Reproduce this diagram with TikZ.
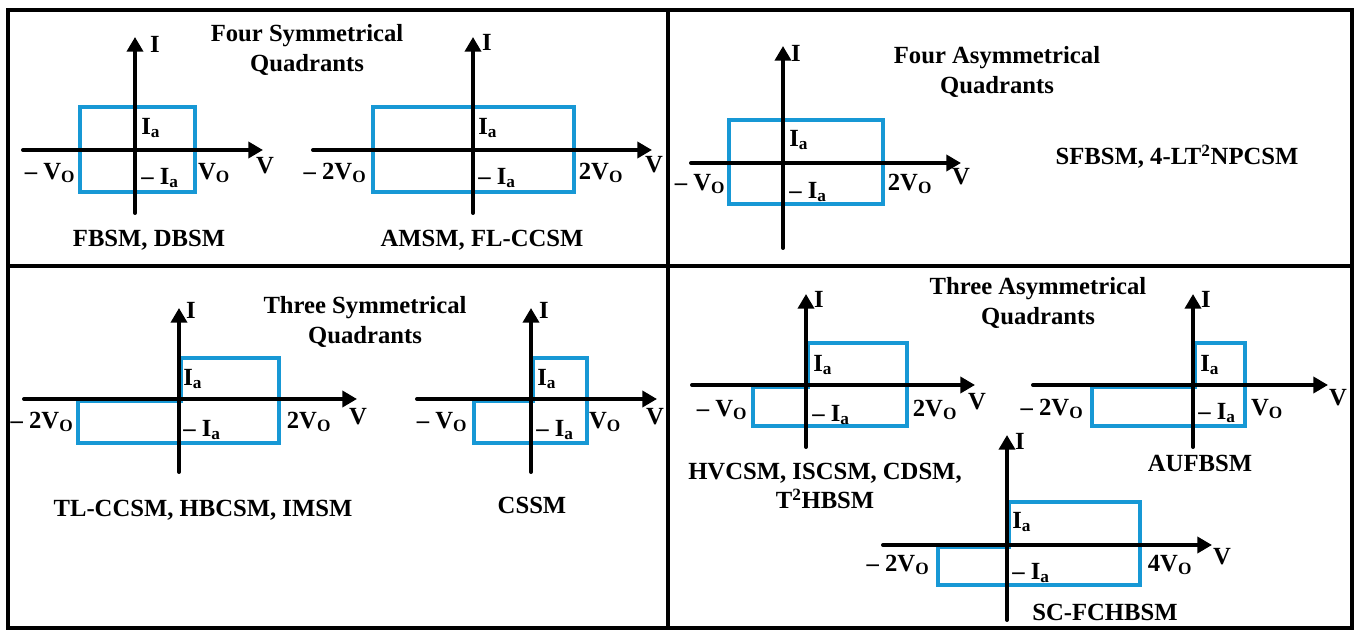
\documentclass[tikz,border=0pt]{standalone}
\usepackage{fontspec}
\setmainfont{Liberation Serif}
\usetikzlibrary{arrows.meta}
\definecolor{qblue}{RGB}{23,152,213}
\newcommand{\myIa}{I\textsubscript{a}}
\newcommand{\myVo}{V\textsubscript{O}}
\newcommand{\mymIa}{\textendash\ I\textsubscript{a}}
\begin{document}
\begin{tikzpicture}[x=0.75pt,y=-0.75pt,
  every node/.style={font=\bfseries\fontsize{18.5}{22}\selectfont, inner sep=0pt},
  axis/.style={line width=3pt, line cap=round, -{Triangle[length=11pt,width=12pt]}},
  wave/.style={draw=qblue, line width=3pt, line join=miter},
  frameline/.style={line width=2.3pt},
  lblw/.style={anchor=west},
  ttl/.style={align=center}]
\useasboundingbox (0,0) rectangle (1357,630);
% frame
\coordinate (f-tl) at (8,10);
\coordinate (f-br) at (1352,628);
\coordinate (f-mt) at (668,10);
\coordinate (f-mb) at (668,628);
\coordinate (f-ml) at (8,266);
\coordinate (f-mr) at (1352,266);
\draw[frameline] (f-tl) rectangle (f-br);
\draw[frameline] (f-mt) -- (f-mb);
\draw[frameline] (f-ml) -- (f-mr);

% ===== Graph A =====
\coordinate (A-r1) at (80,107); \coordinate (A-r2) at (195,192);
\draw[wave] (A-r1) rectangle (A-r2);
\coordinate (A-vl) at (23,150); \coordinate (A-vr) at (263,150);
\coordinate (A-ib) at (135,213); \coordinate (A-it) at (135,37);
\draw[axis] (A-vl) -- (A-vr);
\draw[axis] (A-ib) -- (A-it);
\node (A-I) at (155,44) {I};
\node[lblw] (A-ia) at (141,128) {\myIa};
\node[lblw] (A-mia) at (141,178) {\mymIa};
\node (A-vneg) at (50,173) {\textendash\ \myVo};
\node (A-vpos) at (214,173) {\myVo};
\node (A-V) at (265,166) {V};
\node (A-cap) at (149,240) {FBSM, DBSM};

% ===== Graph B =====
\coordinate (B-r1) at (373,107); \coordinate (B-r2) at (574,192);
\draw[wave] (B-r1) rectangle (B-r2);
\coordinate (B-vl) at (313,150); \coordinate (B-vr) at (652,150);
\coordinate (B-ib) at (473,213); \coordinate (B-it) at (473,37);
\draw[axis] (B-vl) -- (B-vr);
\draw[axis] (B-ib) -- (B-it);
\node (B-I) at (487,42) {I};
\node[lblw] (B-ia) at (478,128) {\myIa};
\node[lblw] (B-mia) at (478,178) {\mymIa};
\node (B-vneg) at (335,173) {\textendash\ 2\myVo};
\node (B-vpos) at (601,173) {2\myVo};
\node (B-V) at (654,165) {V};
\node (B-cap) at (482,240) {AMSM, FL-CCSM};
\node[ttl] (T1) at (307,50) {Four Symmetrical\\Quadrants};

% ===== Graph C =====
\coordinate (C-r1) at (729,120); \coordinate (C-r2) at (883,204);
\draw[wave] (C-r1) rectangle (C-r2);
\coordinate (C-vl) at (691,163); \coordinate (C-vr) at (961,163);
\coordinate (C-ib) at (783,248); \coordinate (C-it) at (783,46);
\draw[axis] (C-vl) -- (C-vr);
\draw[axis] (C-ib) -- (C-it);
\node (C-I) at (796,53) {I};
\node[lblw] (C-ia) at (789,140) {\myIa};
\node[lblw] (C-mia) at (789,192) {\mymIa};
\node (C-vneg) at (700,184) {\textendash\ \myVo};
\node (C-vpos) at (910,184) {2\myVo};
\node (C-V) at (961,177) {V};
\node[ttl] (T2) at (997,72) {Four Asymmetrical\\Quadrants};
\node (C-cap) at (1177,157) {SFBSM, 4-LT\textsuperscript{2}NPCSM};

% ===== Graph D =====
\coordinate (D-s0) at (181,401); \coordinate (D-s1) at (181,358);
\coordinate (D-s2) at (279,358); \coordinate (D-s3) at (279,443);
\coordinate (D-s4) at (78,443);  \coordinate (D-s5) at (78,401);
\draw[wave] (D-s0) -- (D-s1) -- (D-s2) -- (D-s3) -- (D-s4) -- (D-s5) -- cycle;
\coordinate (D-vl) at (24,399); \coordinate (D-vr) at (357,399);
\coordinate (D-ib) at (179,472); \coordinate (D-it) at (179,308);
\draw[axis] (D-vl) -- (D-vr);
\draw[axis] (D-ib) -- (D-it);
\node (D-I) at (191,310) {I};
\node[lblw] (D-ia) at (183,379) {\myIa};
\node[lblw] (D-mia) at (183,430) {\mymIa};
\node (D-vneg) at (42,422) {\textendash\ 2\myVo};
\node (D-vpos) at (309,422) {2\myVo};
\node (D-V) at (358,417) {V};
\node (D-cap) at (203,510) {TL-CCSM, HBCSM, IMSM};
\node[ttl] (T3) at (365,322) {Three Symmetrical\\Quadrants};

% ===== Graph E =====
\coordinate (E-s0) at (533,401); \coordinate (E-s1) at (533,358);
\coordinate (E-s2) at (587,358); \coordinate (E-s3) at (587,443);
\coordinate (E-s4) at (474,443); \coordinate (E-s5) at (474,401);
\draw[wave] (E-s0) -- (E-s1) -- (E-s2) -- (E-s3) -- (E-s4) -- (E-s5) -- cycle;
\coordinate (E-vl) at (417,399); \coordinate (E-vr) at (657,399);
\coordinate (E-ib) at (531,472); \coordinate (E-it) at (531,308);
\draw[axis] (E-vl) -- (E-vr);
\draw[axis] (E-ib) -- (E-it);
\node (E-I) at (544,310) {I};
\node[lblw] (E-ia) at (537,379) {\myIa};
\node[lblw] (E-mia) at (536,430) {\mymIa};
\node (E-vneg) at (442,422) {\textendash\ \myVo};
\node (E-vpos) at (605,422) {\myVo};
\node (E-V) at (655,417) {V};
\node (E-cap) at (532,505) {CSSM};

% ===== Graph F =====
\coordinate (F-s0) at (808,387); \coordinate (F-s1) at (808,343);
\coordinate (F-s2) at (907,343); \coordinate (F-s3) at (907,426);
\coordinate (F-s4) at (753,426); \coordinate (F-s5) at (753,387);
\draw[wave] (F-s0) -- (F-s1) -- (F-s2) -- (F-s3) -- (F-s4) -- (F-s5) -- cycle;
\coordinate (F-vl) at (692,385); \coordinate (F-vr) at (975,385);
\coordinate (F-ib) at (806,447); \coordinate (F-it) at (806,294);
\draw[axis] (F-vl) -- (F-vr);
\draw[axis] (F-ib) -- (F-it);
\node (F-I) at (819,299) {I};
\node[lblw] (F-ia) at (813,365) {\myIa};
\node[lblw] (F-mia) at (812,415) {\mymIa};
\node (F-vneg) at (722,410) {\textendash\ \myVo};
\node (F-vpos) at (935,410) {2\myVo};
\node (F-V) at (977,402) {V};
\node[ttl] (F-cap) at (825,486) {HVCSM, ISCSM, CDSM,\\T\textsuperscript{2}HBSM};
\node[ttl] (T4) at (1038,303) {Three Asymmetrical\\Quadrants};

% ===== Graph G =====
\coordinate (G-s0) at (1195,387); \coordinate (G-s1) at (1195,343);
\coordinate (G-s2) at (1245,343); \coordinate (G-s3) at (1245,426);
\coordinate (G-s4) at (1092,426); \coordinate (G-s5) at (1092,387);
\draw[wave] (G-s0) -- (G-s1) -- (G-s2) -- (G-s3) -- (G-s4) -- (G-s5) -- cycle;
\coordinate (G-vl) at (1033,385); \coordinate (G-vr) at (1328,385);
\coordinate (G-ib) at (1193,447); \coordinate (G-it) at (1193,294);
\draw[axis] (G-vl) -- (G-vr);
\draw[axis] (G-ib) -- (G-it);
\node (G-I) at (1206,299) {I};
\node[lblw] (G-ia) at (1200,365) {\myIa};
\node[lblw] (G-mia) at (1198,413) {\mymIa};
\node (G-vneg) at (1052,409) {\textendash\ 2\myVo};
\node (G-vpos) at (1267,409) {\myVo};
\node (G-V) at (1338,398) {V};
\node (G-cap) at (1200,463) {AUFBSM};

% ===== Graph H =====
\coordinate (H-s0) at (1009,547); \coordinate (H-s1) at (1009,502);
\coordinate (H-s2) at (1140,502); \coordinate (H-s3) at (1140,585);
\coordinate (H-s4) at (938,585);  \coordinate (H-s5) at (938,547);
\draw[wave] (H-s0) -- (H-s1) -- (H-s2) -- (H-s3) -- (H-s4) -- (H-s5) -- cycle;
\coordinate (H-vl) at (883,545); \coordinate (H-vr) at (1212,545);
\coordinate (H-ib) at (1007,620); \coordinate (H-it) at (1007,435);
\draw[axis] (H-vl) -- (H-vr);
\draw[axis] (H-ib) -- (H-it);
\node (H-I) at (1020,441) {I};
\node[lblw] (H-ia) at (1012,522) {\myIa};
\node[lblw] (H-mia) at (1012,573) {\mymIa};
\node (H-vneg) at (898,565) {\textendash\ 2\myVo};
\node (H-vpos) at (1170,565) {4\myVo};
\node (H-V) at (1222,557) {V};
\node (H-cap) at (1105,612) {SC-FCHBSM};
\end{tikzpicture}
\end{document}
